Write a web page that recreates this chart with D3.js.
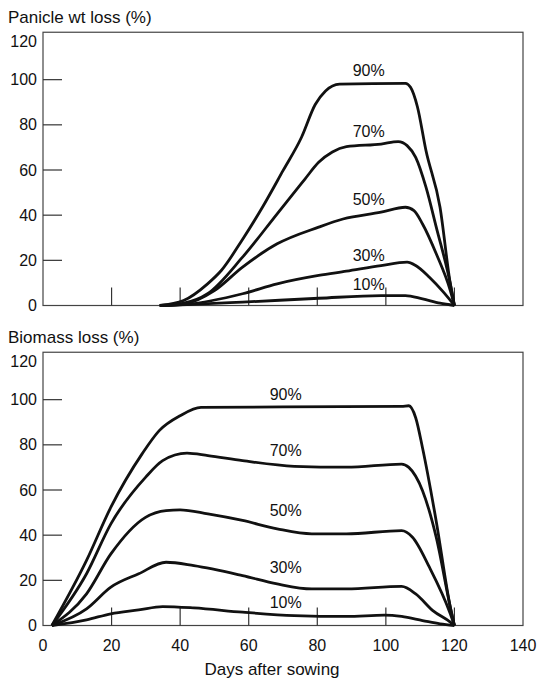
<!DOCTYPE html>
<html>
<head>
<meta charset="utf-8">
<script src="https://cdn.jsdelivr.net/npm/d3@7"></script>
<style>
    body { margin: 0; background: #fff; }
    svg { display: block; font-family: "Liberation Sans", Arial, sans-serif; }
</style>
</head>
<body>
<svg id="chart" width="540" height="681"></svg>
<script>
// x ticks / y ticks shared by both panels
const xTicks = [0, 20, 40, 60, 80, 100, 120, 140];
const yTicks = [0, 20, 40, 60, 80, 100, 120];
const seriesNames = ['90%', '70%', '50%', '30%', '10%'];

// panicle wt loss, [day, loss %]
const panicle90 = [[34, 0], [41, 2.2], [48, 9.6], [52, 15.5], [58, 28.8], [64, 43.5], [70, 59.7], [75.4, 74.5],
    [79.4, 89], [82.4, 95], [86.5, 98], [105.7, 98.4], [107.2, 96.6], [109.2, 88], [111.7, 68.6],
    [115.8, 43.5], [118.8, 9.6], [120, 0]];
const panicle70 = [[34.5, 0], [41, 1], [48, 5.2], [58.2, 21.4], [68.3, 40.6], [76.4, 56], [80.4, 63.4],
    [84.4, 68], [88.5, 70.3], [98.6, 71.5], [103.6, 72.6], [106.2, 70.8], [108.7, 65.6], [111.7, 52.4],
    [114.7, 34.7], [118.8, 9.6], [120, 0]];
const panicle50 = [[35, 0], [41, 0.6], [50, 6.6], [58.2, 17], [68.3, 27.3], [80.4, 34.7], [87.5, 38.3],
    [98.6, 41.3], [105.7, 43.5], [108.2, 42], [110.7, 36.1], [114.7, 22.9], [118.8, 6.6], [120, 0]];
const panicle30 = [[35.5, 0], [42, 0.5], [58.2, 5.2], [68.3, 9.6], [80.4, 13.3], [88.5, 15.2], [98.6, 17.7],
    [106.2, 19.2], [108.7, 17.7], [112.7, 12.5], [116.8, 5.9], [120, 0]];
const panicle10 = [[34, 0], [42, 0.4], [58.2, 1.5], [80.4, 3.2], [98.6, 4.4], [105.7, 4.4], [110.7, 2.9],
    [115.8, 1], [120, 0]];

// biomass loss, [day, loss %]
const biomass90 = [[2.6, 0], [12.7, 28.8], [19.8, 52.4], [28.9, 76], [33.9, 86.3], [40, 92.9], [46.1, 96.6],
    [104.6, 97], [106.7, 97.3], [108.7, 92], [110.7, 78.6], [114.7, 46.1], [118.8, 8.1], [120, 0]];
const biomass70 = [[2.6, 0], [12.7, 22.9], [19.8, 45], [29.9, 65.6], [34.9, 73], [42, 76.3], [48.1, 75.2],
    [58.2, 73], [73.3, 70.5], [88.5, 70.1], [104.6, 71.5], [106.7, 70], [110.7, 59.7], [114.7, 39],
    [118.8, 8.1], [120, 0]];
const biomass50 = [[2.6, 0], [12.7, 14], [19.8, 31.7], [29.9, 47.9], [35.9, 50.9], [40, 51.2], [48.1, 49.4],
    [58.2, 46.5], [68.3, 42.8], [78.4, 40.6], [88.5, 40.6], [104.6, 42], [107.7, 39.2], [112.7, 25.8],
    [118.8, 5.2], [120, 0]];
const biomass30 = [[2.6, 0], [12.7, 7.4], [19.8, 17], [27.9, 22.9], [35.9, 28], [44, 26.5], [58.2, 22.1],
    [68.3, 18.4], [78.4, 16.2], [88.5, 16.2], [104.6, 17.3], [108.7, 14], [113.7, 6.6], [118.8, 1.5], [120, 0]];
const biomass10 = [[2.6, 0], [12.7, 2.5], [19.8, 5.2], [27.9, 6.9], [34.9, 8.4], [44, 7.8], [58.2, 5.9],
    [73.3, 4.4], [88.5, 4], [99.6, 4.6], [104.6, 4], [110.7, 2.2], [115.8, 0.7], [120, 0]];

// where the % labels sit, [day, loss %]
const panicleLabelPos = [[95, 104], [95, 77.1], [95, 47.2], [95, 22.1], [95, 9.3]];
const biomassLabelPos = [[70.8, 102.5], [70.8, 77.4], [70.8, 50.9], [70.8, 25.8], [70.8, 10.3]];

class Panel {

    constructor(params) {
        this.svg = params.svg;
        this.top = params.top;
        this.title = params.title;
        this.series = params.series;
        this.labels = params.labels;
        this.showXLabels = params.showXLabels;

        this.x = d3.scaleLinear().domain([0, 140]).range([43, 523]);
        this.y = d3.scaleLinear().domain([0, 120]).range([305.5, 34.5]);

        this.render();
        return this;
    }

    render() {
        let x = this.x,
            y = this.y;

        let g = this.svg.append('g')
            .attr('transform', `translate(0,${this.top})`);

        g.append('text')
            .attr('x', 8)
            .attr('y', 22.5)
            .attr('font-size', 17)
            .attr('fill', '#111')
            .text(this.title);

        // frame
        g.append('rect')
            .attr('x', x(0))
            .attr('y', y(121))
            .attr('width', x(140) - x(0))
            .attr('height', y(0) - y(121))
            .attr('fill', 'none')
            .attr('stroke', '#444')
            .attr('stroke-width', 1.2);

        // inward ticks on the left
        g.selectAll('line.ytick')
            .data(yTicks.filter(t => t > 0 && t < 120))
            .enter().append('line')
            .attr('class', 'ytick')
            .attr('x1', x(0)).attr('x2', x(0) + 19)
            .attr('y1', d => y(d)).attr('y2', d => y(d))
            .attr('stroke', '#333')
            .attr('stroke-width', 1.2);

        // inward ticks on the bottom
        g.selectAll('line.xtick')
            .data(xTicks.filter(t => t > 0 && t < 140))
            .enter().append('line')
            .attr('class', 'xtick')
            .attr('x1', d => x(d)).attr('x2', d => x(d))
            .attr('y1', y(0)).attr('y2', y(0) - 18)
            .attr('stroke', '#333')
            .attr('stroke-width', 1.2);

        // y labels (120 sits a bit lower, under the title)
        g.selectAll('text.ylab')
            .data(yTicks)
            .enter().append('text')
            .attr('class', 'ylab')
            .attr('x', 37)
            .attr('y', d => y(d) + (d === 120 ? 7 : 0))
            .attr('dy', '0.35em')
            .attr('text-anchor', 'end')
            .attr('font-size', 16)
            .attr('fill', '#111')
            .text(d => d);

        if (this.showXLabels) {
            g.selectAll('text.xlab')
                .data(xTicks)
                .enter().append('text')
                .attr('class', 'xlab')
                .attr('x', d => x(d))
                .attr('y', y(0) + 25)
                .attr('text-anchor', 'middle')
                .attr('font-size', 16)
                .attr('fill', '#111')
                .text(d => d);

            g.append('text')
                .attr('x', 272)
                .attr('y', y(0) + 49)
                .attr('text-anchor', 'middle')
                .attr('font-size', 17)
                .attr('fill', '#111')
                .text('Days after sowing');
        }

        let lineFunction = d3.line()
            .x(d => x(d[0]))
            .y(d => y(d[1]))
            .curve(d3.curveMonotoneX);

        this.series.forEach(s => {
            g.append('path')
                .attr('d', lineFunction(s))
                .attr('fill', 'none')
                .attr('stroke', '#111')
                .attr('stroke-width', 2.8)
                .attr('stroke-linejoin', 'round');
        });

        g.selectAll('text.slab')
            .data(this.labels)
            .enter().append('text')
            .attr('class', 'slab')
            .attr('x', d => x(d[0]))
            .attr('y', d => y(d[1]))
            .attr('dy', '0.35em')
            .attr('text-anchor', 'middle')
            .attr('font-size', 16)
            .attr('fill', '#111')
            .text((d, i) => seriesNames[i]);
    }
}

const svg = d3.select('#chart');

new Panel({
    svg: svg,
    top: 0,
    title: 'Panicle wt loss (%)',
    series: [panicle90, panicle70, panicle50, panicle30, panicle10],
    labels: panicleLabelPos,
    showXLabels: false
});

new Panel({
    svg: svg,
    top: 320,
    title: 'Biomass loss (%)',
    series: [biomass90, biomass70, biomass50, biomass30, biomass10],
    labels: biomassLabelPos,
    showXLabels: true
});
</script>
</body>
</html>
